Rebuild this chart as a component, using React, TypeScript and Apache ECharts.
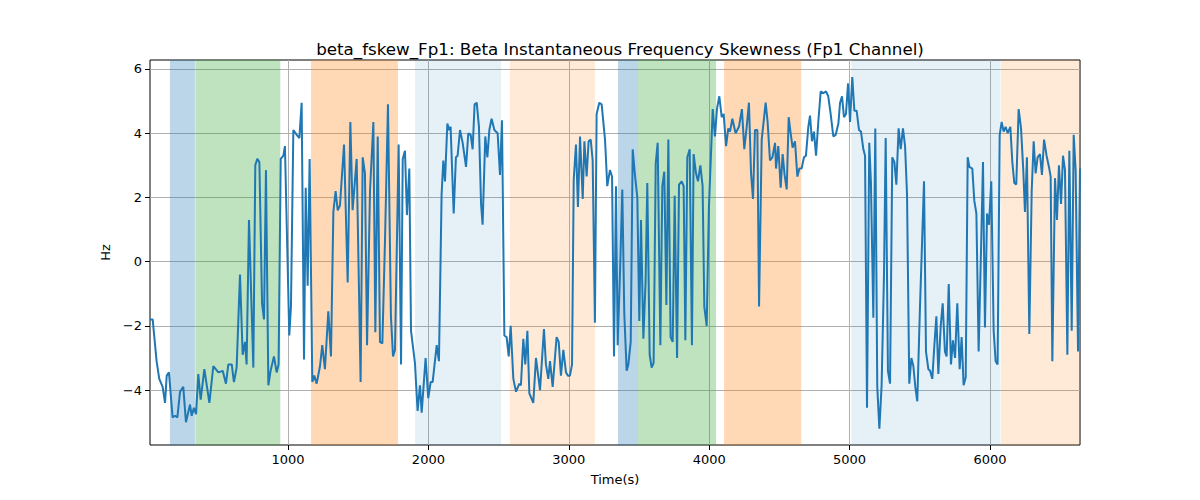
import { useEffect, useRef } from "react";
import * as echarts from "echarts";

// time (s), value (Hz)
const times: number[] = [
  17, 36, 64, 83, 107, 124, 136, 152, 178, 195, 212, 231, 254, 273, 302, 314, 330, 345, 361, 378,
  404, 440, 468, 504, 535, 558, 575, 599, 615, 634, 658, 677, 694, 705, 722, 753, 767, 781, 796, 815,
  829, 843, 860, 876, 900, 919, 933, 948, 967, 978, 1009, 1021, 1038, 1062, 1081, 1097, 1114, 1126, 1140, 1154,
  1173, 1187, 1204, 1228, 1244, 1263, 1287, 1306, 1323, 1339, 1354, 1370, 1399, 1425, 1444, 1460, 1489, 1517, 1532, 1548,
  1563, 1584, 1608, 1622, 1639, 1655, 1672, 1691, 1712, 1733, 1748, 1762, 1788, 1805, 1817, 1833, 1847, 1864, 1876, 1904,
  1923, 1940, 1952, 1980, 1999, 2016, 2030, 2059, 2075, 2094, 2106, 2118, 2135, 2147, 2158, 2180, 2196, 2208, 2225, 2244,
  2268, 2284, 2301, 2315, 2329, 2344, 2360, 2375, 2386, 2405, 2420, 2434, 2450, 2470, 2493, 2510, 2524, 2541, 2557, 2572,
  2586, 2605, 2624, 2648, 2659, 2676, 2690, 2705, 2719, 2747, 2766, 2795, 2823, 2837, 2854, 2866, 2885, 2913, 2928, 2944,
  2961, 2980, 2994, 3008, 3023, 3035, 3051, 3065, 3080, 3099, 3111, 3127, 3141, 3156, 3170, 3186, 3198, 3217, 3234, 3258,
  3274, 3293, 3308, 3322, 3336, 3348, 3365, 3381, 3395, 3412, 3424, 3441, 3455, 3471, 3488, 3502, 3514, 3531, 3547, 3559,
  3576, 3590, 3604, 3619, 3633, 3652, 3666, 3680, 3695, 3709, 3725, 3740, 3754, 3771, 3785, 3804, 3818, 3830, 3844, 3861,
  3877, 3889, 3906, 3920, 3937, 3953, 3965, 3982, 3998, 4025, 4041, 4055, 4072, 4089, 4103, 4120, 4136, 4148, 4165, 4188,
  4212, 4233, 4250, 4267, 4283, 4298, 4312, 4326, 4343, 4355, 4374, 4402, 4416, 4433, 4450, 4469, 4476, 4492, 4509, 4523,
  4537, 4552, 4566, 4580, 4594, 4611, 4628, 4642, 4658, 4675, 4689, 4706, 4718, 4732, 4746, 4761, 4777, 4794, 4813, 4832,
  4848, 4865, 4884, 4901, 4920, 4932, 4946, 4960, 4974, 4989, 5003, 5019, 5034, 5050, 5067, 5081, 5098, 5110, 5124, 5140,
  5152, 5169, 5183, 5197, 5212, 5228, 5245, 5257, 5273, 5288, 5304, 5319, 5333, 5349, 5364, 5380, 5395, 5409, 5425, 5440,
  5454, 5468, 5482, 5501, 5530, 5544, 5561, 5573, 5589, 5603, 5618, 5632, 5649, 5663, 5679, 5691, 5706, 5722, 5736, 5751,
  5767, 5784, 5798, 5812, 5827, 5841, 5853, 5874, 5888, 5903, 5919, 5936, 5950, 5964, 5979, 5993, 6009, 6026, 6040, 6054,
  6069, 6083, 6097, 6111, 6126, 6145, 6159, 6173, 6187, 6204, 6221, 6237, 6249, 6263, 6280, 6297, 6311, 6325, 6339, 6356,
  6370, 6385, 6403, 6420, 6432, 6444, 6463, 6477, 6491, 6506, 6520, 6534, 6551, 6565, 6582, 6596, 6610, 6627, 6641,
];
const values: number[] = [
  -1.8, -1.8, -3.1, -3.65, -3.9, -4.4, -3.55, -3.45, -4.85, -4.8, -4.85, -4.05, -3.9, -5.0, -4.45, -4.8, -4.55, -4.75, -3.5, -4.3,
  -3.35, -4.4, -3.25, -3.45, -3.4, -3.8, -3.2, -3.2, -3.75, -3.3, -0.4, -2.9, -2.5, -3.2, 1.3, -3.3, 3.0, 3.2, 3.1, -1.3,
  -1.8, 2.85, -3.85, -3.4, -2.95, -3.45, -3.2, 3.2, 3.3, 3.6, -2.3, -1.4, 4.1, 3.95, 3.85, 4.95, -3.05, 2.3, -0.75, 3.2,
  -3.75, -3.55, -3.8, -3.25, -2.6, -3.35, -1.55, -2.95, 1.55, 2.2, 1.6, 1.75, 3.65, -0.65, 4.35, 1.6, 3.2, -3.75, 3.25, 2.75,
  -2.6, 2.2, 4.35, -2.2, 3.9, -2.5, -2.55, 0.7, 4.9, -1.7, -2.95, -2.75, 3.65, -3.2, 3.2, 3.45, 1.45, 2.9, -2.15, -3.15,
  -4.65, -3.85, -4.7, -3.0, -4.25, -3.75, -3.75, -2.6, -3.1, 2.1, 3.15, 2.5, 4.3, 4.1, 4.2, 1.5, 3.25, 3.3, 4.1, 3.7,
  2.95, 4.0, 3.95, 3.5, 4.9, 4.95, 4.2, 1.8, 1.15, 3.9, 3.25, 4.1, 4.45, 4.1, 4.0, 2.7, 4.4, -2.3, -2.35, -2.95,
  -2.0, -3.65, -4.05, -3.8, -3.85, -2.4, -3.2, -2.15, -4.1, -4.4, -3.0, -4.0, -2.1, -3.2, -3.65, -3.1, -3.9, -2.35, -2.5, -3.55,
  -2.75, -3.45, -3.55, -3.55, -3.2, 2.55, 3.65, 1.7, 3.9, 1.95, 3.75, 2.65, 3.75, 3.8, 3.15, -1.9, 4.6, 4.95, 4.9, 3.8,
  2.35, 2.85, 2.65, -2.95, 2.35, -2.6, -0.3, 2.25, -1.6, -3.4, -3.2, -2.5, 3.5, 2.7, 2.0, -1.85, 1.3, -2.4, -0.6, 2.45,
  -2.9, -3.3, -3.15, 3.05, 3.7, -2.6, 2.35, 2.8, -1.35, 3.8, -2.35, -2.5, 2.05, -3.0, 2.4, 2.5, 2.35, -2.45, 3.25, 3.5,
  -2.6, 3.35, 2.75, 2.5, 3.0, 2.35, -1.4, -2.0, 1.7, 4.75, 3.9, 4.75, 5.15, 4.5, 4.6, 3.6, 4.15, 4.05, 4.45, 4.0,
  4.2, 4.75, 3.5, 4.2, 4.95, 2.75, 1.95, 4.1, 4.1, -1.4, 3.8, 4.95, 4.35, 3.15, 3.25, 3.7, 2.9, 3.6, 2.3, 3.35,
  2.7, 2.25, 4.5, 4.0, 3.55, 3.75, 2.65, 2.9, 2.9, 3.25, 3.3, 4.2, 4.55, 3.75, 4.05, 3.3, 4.35, 5.3, 5.25, 5.3,
  5.15, 4.6, 3.9, 3.95, 4.3, 4.95, 5.15, 4.5, 4.6, 5.55, 4.35, 5.75, 4.7, 4.7, 4.1, 4.05, 3.5, 3.3, -4.55, 3.7,
  2.45, -1.75, 4.15, -3.9, -5.2, -3.85, -0.4, 3.85, -3.4, -3.8, 3.25, 3.1, 2.4, 4.15, 3.5, 4.15, 3.6, 2.1, -3.8, -3.0,
  -3.25, -3.9, -4.35, -1.45, 2.5, -2.8, -3.35, -3.4, -3.65, -2.65, -1.7, -3.5, -2.0, -1.3, -2.8, -2.95, -0.7, -3.2, -2.45, -3.0,
  -1.3, -3.35, -2.35, -3.85, -3.6, 3.25, 2.95, 2.9, 1.9, 1.5, -2.8, 0.35, 3.1, -2.05, 1.5, 1.15, 2.5, -2.15, -3.1, -3.2,
  3.95, 4.35, 4.05, 4.2, 4.0, 4.2, 3.1, 2.45, 2.4, 4.75, 4.15, 2.85, 1.55, 3.25, -2.25, 2.2, 3.75, 2.75, 3.25, 3.35,
  2.7, 3.8, 3.3, 2.95, 2.65, -3.1, 2.6, 1.3, 3.0, 1.8, 3.3, 2.85, -2.9, 3.45, -2.15, 3.95, 2.85, -2.8, 2.9,
];

// shaded intervals
const spanStarts: number[] = [159, 340, 1164, 1905, 2580, 3350, 3493, 4106, 5012, 6078];
const spanEnds: number[] = [337, 945, 1783, 2517, 3186, 3493, 4049, 4655, 6074, 6641];
const spanColors: string[] = ["#1f77b4", "#2ca02c", "#ff7f0e", "#1f77b4", "#ff7f0e", "#1f77b4", "#2ca02c", "#ff7f0e", "#1f77b4", "#ff7f0e"];
const spanOpacity: number[] = [0.3, 0.3, 0.3, 0.11, 0.16, 0.3, 0.3, 0.3, 0.11, 0.16];

const xTicks = [1000, 2000, 3000, 4000, 5000, 6000];
const yTicks = [-4, -2, 0, 2, 4, 6];

export default function App() {
  const ref = useRef<HTMLDivElement>(null);

  useEffect(() => {
    document.body.style.margin = "0";
    if (!ref.current) return;
    const chart = echarts.init(ref.current, undefined, { renderer: "svg" });
    const font = "DejaVu Sans";
    chart.setOption({
      animation: false,
      textStyle: { fontFamily: font },
      title: {
        text: "beta_fskew_Fp1: Beta Instantaneous Frequency Skewness (Fp1 Channel)",
        left: 615,
        textAlign: "center",
        top: 35,
        textStyle: { fontFamily: font, fontSize: 16.7, fontWeight: "normal", color: "#000" },
      },
      grid: {
        left: 150, right: 120, top: 60, bottom: 55,
        show: true, borderColor: "#000", borderWidth: 1, backgroundColor: "transparent",
      },
      xAxis: {
        type: "value",
        min: 17,
        max: 6641,
        name: "Time(s)",
        nameLocation: "middle",
        nameGap: 28,
        nameTextStyle: { fontFamily: font, fontSize: 13, color: "#000" },
        axisLine: { show: false, onZero: false },
        axisTick: { show: true, customValues: xTicks, length: 5, lineStyle: { color: "#000" } },
        axisLabel: { customValues: xTicks, fontFamily: font, fontSize: 13, color: "#000", margin: 8, formatter: (v: number) => String(v) },
        splitLine: { show: true, lineStyle: { color: "#b0b0b0", width: 1 } },
      },
      yAxis: {
        type: "value",
        min: -5.71,
        max: 6.28,
        name: "Hz",
        nameLocation: "middle",
        nameGap: 36,
        nameTextStyle: { fontFamily: font, fontSize: 13, color: "#000" },
        axisLine: { show: false, onZero: false },
        axisTick: { show: true, customValues: yTicks, length: 5, lineStyle: { color: "#000" } },
        axisLabel: {
          customValues: yTicks, fontFamily: font, fontSize: 13, color: "#000", margin: 8,
          formatter: (v: number) => (v < 0 ? "\u2212" + Math.abs(v) : String(v)),
        },
        splitLine: { show: true, lineStyle: { color: "#b0b0b0", width: 1 } },
      },
      series: [
        {
          type: "line",
          data: times.map((t, i) => [t, values[i]]),
          showSymbol: false,
          lineStyle: { color: "#1f77b4", width: 2 },
          itemStyle: { color: "#1f77b4" },
          z: 3,
          markArea: {
            silent: true,
            data: spanStarts.map((s, i) => [
              { xAxis: s, itemStyle: { color: spanColors[i], opacity: spanOpacity[i] } },
              { xAxis: spanEnds[i] },
            ]),
          },
        },
      ],
    });
    return () => chart.dispose();
  }, []);

  return <div ref={ref} style={{ width: 1200, height: 500 }} />;
}
